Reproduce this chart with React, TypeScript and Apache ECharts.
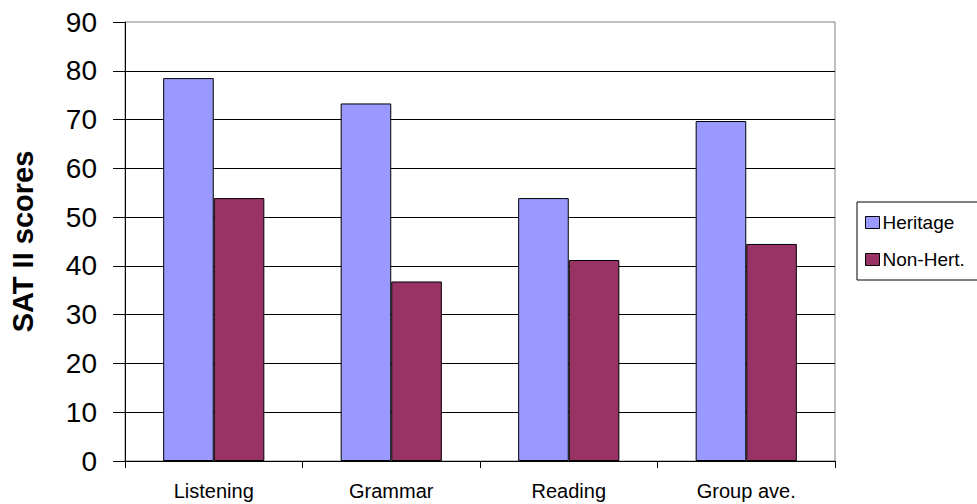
import React, { useEffect, useRef } from "react";
import * as echarts from "echarts";

const categories = ["Listening", "Grammar", "Reading", "Group ave."];
const heritage = [78.5, 73.3, 53.9, 69.7];
const nonHeritage = [53.9, 36.8, 41.2, 44.5];
const seriesNames = ["Heritage", "Non-Hert."];
const yTitle = "SAT II scores";

export default function App() {
  const ref = useRef<HTMLDivElement>(null);
  useEffect(() => {
    const chart = echarts.init(ref.current!, undefined, { renderer: "svg" });
    const font = "Arial, 'Liberation Sans', sans-serif";
    chart.setOption({
      animation: false,
      backgroundColor: "#fff",
      textStyle: { fontFamily: font },
      grid: {
        left: 125,
        right: 142,
        top: 22,
        bottom: 43,
        show: true,
        borderColor: "#808080",
        borderWidth: 1,
        backgroundColor: "transparent",
      },
      legend: {
        orient: "vertical",
        left: 857,
        top: 202,
        width: 118,
        padding: [11, 20, 11, 8],
        itemGap: 18,
        borderColor: "#000",
        borderWidth: 1,
        icon: "rect",
        itemWidth: 14,
        itemHeight: 12,
        itemStyle: { borderColor: "#000", borderWidth: 1 },
        textStyle: { fontSize: 19, color: "#000", fontFamily: font, padding: [0, 0, 0, -2] },
        data: seriesNames,
      },
      xAxis: {
        type: "category",
        data: categories,
        axisLine: { show: true, lineStyle: { color: "#000", width: 1 } },
        axisTick: { show: true, length: 7, lineStyle: { color: "#000" } },
        axisLabel: { fontSize: 20, color: "#000", margin: 20 },
        splitLine: { show: false },
      },
      yAxis: {
        type: "value",
        min: 0,
        max: 90,
        interval: 10,
        name: yTitle,
        nameLocation: "middle",
        nameGap: 88,
        nameTextStyle: { fontSize: 29, fontWeight: "bold", color: "#000" },
        axisLine: { show: true, lineStyle: { color: "#000", width: 1 } },
        axisTick: { show: true, length: 12, lineStyle: { color: "#000" } },
        axisLabel: { fontSize: 28, color: "#000", margin: 28 },
        splitLine: { show: true, showMaxLine: false, lineStyle: { color: "#000", width: 1 } },
      },
      series: [
        {
          name: seriesNames[0],
          type: "bar",
          data: heritage,
          barGap: "0%",
          barCategoryGap: "43%",
          itemStyle: { color: "#9999FF", borderColor: "#000", borderWidth: 1 },
        },
        {
          name: seriesNames[1],
          type: "bar",
          data: nonHeritage,
          itemStyle: { color: "#993366", borderColor: "#000", borderWidth: 1 },
        },
      ],
    });
    return () => chart.dispose();
  }, []);
  return <div ref={ref} style={{ width: 977, height: 504, position: "fixed", left: 0, top: 0 }} />;
}
